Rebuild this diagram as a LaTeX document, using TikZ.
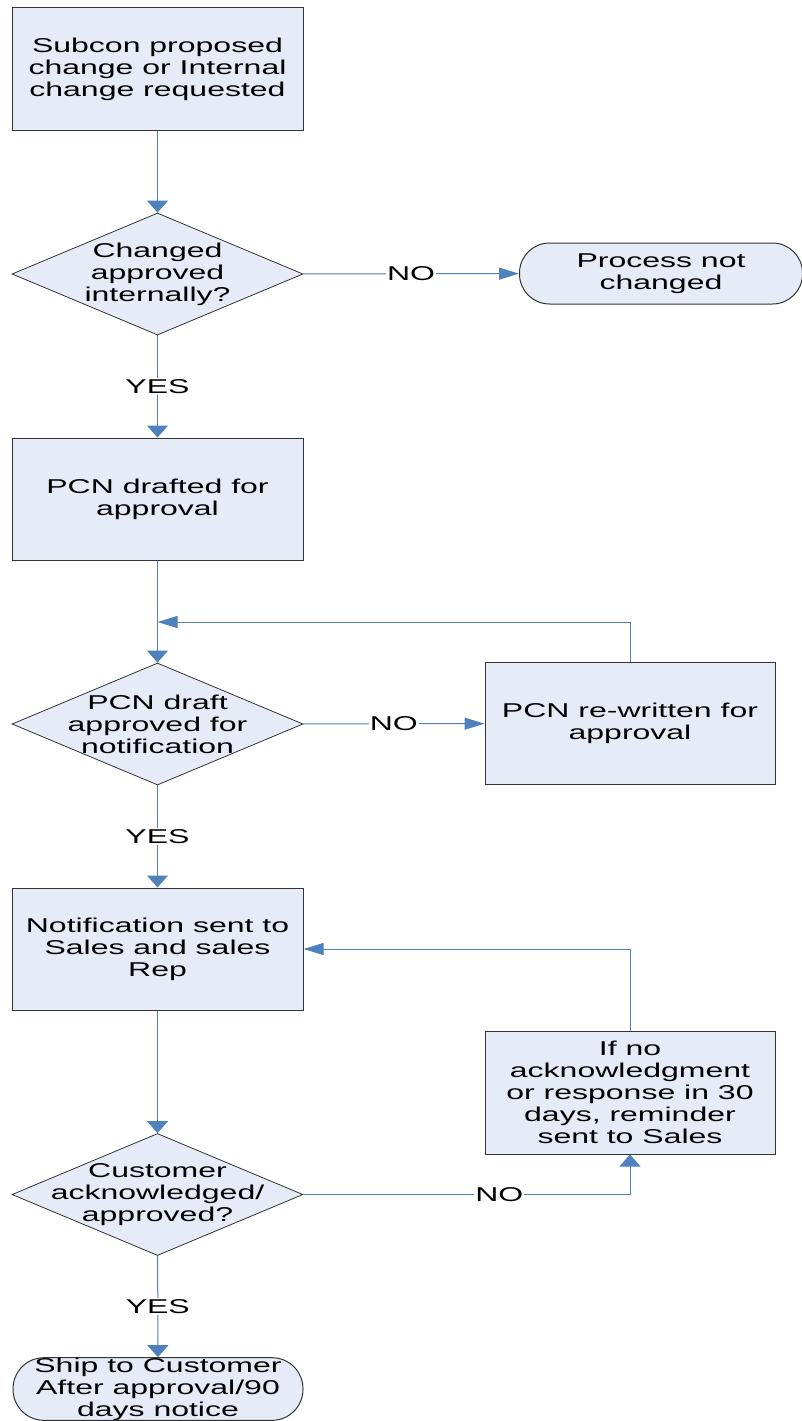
\documentclass[tikz,border=0pt]{standalone}
\usepackage{fontspec}
\setmainfont{Liberation Sans}[FakeStretch=1.6]
\usetikzlibrary{shapes.geometric, arrows.meta}
\definecolor{boxfill}{RGB}{230,236,247}
\definecolor{flowblue}{RGB}{79,129,189}

\begin{document}
\begin{tikzpicture}[x=1pt, y=-1pt,
    every node/.style={font=\fontsize{20}{22}\selectfont, align=center},
    proc/.style={draw=black!80, fill=boxfill, line width=1pt, minimum width=291pt, minimum height=122pt, inner sep=0pt},
    term/.style={proc, minimum height=61pt, rounded corners=30pt},
    decide/.style={diamond, draw=black!80, fill=boxfill, line width=0.8pt, minimum width=291pt, minimum height=122pt, inner sep=0pt},
    tag/.style={fill=white, inner sep=1pt},
    link/.style={draw=flowblue, line width=1pt},
    vert/.style={link, -{Triangle[width=21pt, length=12pt]}},
    horiz/.style={link, -{Triangle[width=12pt, length=20pt]}}]
  \useasboundingbox (0,0) rectangle (801,1421);
  % main column
  \node[proc] (request) at (157.5,69) {Subcon proposed\\change or Internal\\change requested};
  \node[decide, label={center:{Changed\\approved\\internally?}}] (approveint) at (157.5,274) {};
  \node[term, minimum width=283pt] (unchanged) at (661,273.5) {Process not\\changed};
  \node[proc] (draft) at (157.5,499) {PCN drafted for\\approval};
  \node[decide, label={center:{PCN draft\\approved for\\notification}}] (draftok) at (157.5,724) {};
  \node[proc, minimum width=290pt] (rewrite) at (630,723.5) {PCN re-written for\\approval};
  \node[proc] (notify) at (157.5,949) {Notification sent to\\Sales and sales\\Rep};
  \node[proc, minimum width=290pt, minimum height=123pt] (remind) at (630,1092.5) {If no\\acknowledgment\\or response in 30\\days, reminder\\sent to Sales};
  \node[decide, label={center:{Customer\\acknowledged/\\approved?}}] (custok) at (157.5,1194.5) {};
  \node[term, minimum width=290pt, minimum height=62pt, rounded corners=31pt] (ship) at (158,1389) {Ship to Customer\\After approval/90\\days notice};
  \coordinate (merge) at (157.5,622);

  % connectors
  \draw[vert] (request) -- (approveint);
  \draw[horiz] (approveint) -- node[tag] {NO} (unchanged);
  \draw[vert] (approveint) -- node[tag] {YES} (draft);
  \draw[vert] (draft) -- (draftok);
  \draw[horiz] (draftok) -- node[tag] {NO} (rewrite);
  \draw[horiz] (rewrite.north) |- (merge);
  \draw[vert] (draftok) -- node[tag] {YES} (notify);
  \draw[vert] (notify) -- (custok);
  \draw[vert] (custok.east) -| node[tag, pos=0.3] {NO} (remind.south);
  \draw[horiz] (remind.north) |- (notify.east);
  \draw[vert] (custok) -- node[tag] {YES} (ship);
\end{tikzpicture}
\end{document}
